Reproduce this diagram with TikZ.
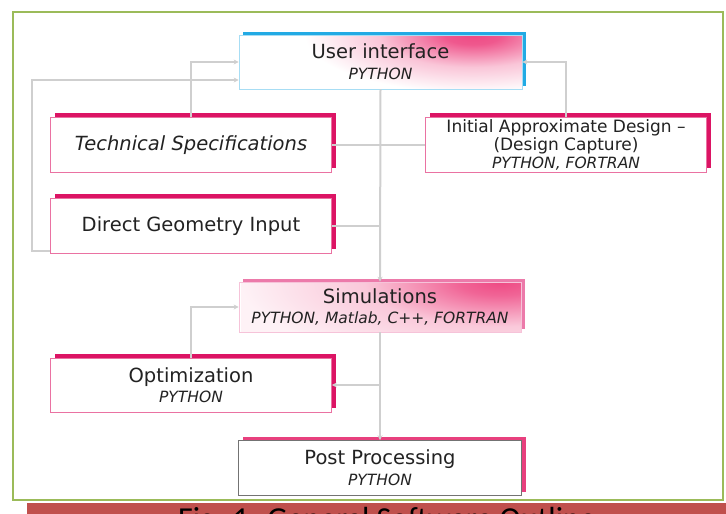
\documentclass[tikz,border=0pt]{standalone}
\usepackage{fontspec}
\setmainfont{DejaVu Sans}
\newfontfamily\capfont{Carlito}
\usepackage{xcolor}
\usetikzlibrary{arrows.meta,positioning,shadows}

\definecolor{accred}{HTML}{DC1464}
\definecolor{accblue}{HTML}{22AAE4}
\definecolor{accpink}{HTML}{EC7AAA}
\definecolor{postpink}{HTML}{E8407E}
\definecolor{wiregray}{HTML}{CFCFCF}
\definecolor{framegreen}{HTML}{9BBB59}
\definecolor{capred}{HTML}{C0504D}
\definecolor{shadepink}{HTML}{EE4A84}
\definecolor{txtgray}{HTML}{222222}

% concentric pink glows, placed at a block's upper right corner
\pgfdeclareradialshading{uiglow}{\pgfpoint{0bp}{0bp}}{color(0bp)=(shadepink); color(3bp)=(shadepink!92); color(10bp)=(shadepink!32); color(18bp)=(white); color(50bp)=(white)}
\pgfdeclareradialshading{simglow}{\pgfpoint{0bp}{0bp}}{color(0bp)=(shadepink); color(4bp)=(shadepink!85); color(13bp)=(shadepink!30); color(25bp)=(shadepink!7); color(50bp)=(shadepink!7)}

\newcommand{\lang}[1]{{\fontsize{15.5}{18}\selectfont\itshape #1}}

\tikzset{
    block/.style={rectangle, draw=accred!60, line width=0.6pt, fill=white, minimum width=281pt, minimum height=55pt, inner sep=0pt, align=center, text=txtgray, font=\fontsize{19.5}{22}\selectfont},
    redblock/.style={block, general shadow={shadow xshift=4.5pt, shadow yshift=4.5pt, fill=accred}},
    uiblock/.style={block, draw=accblue!40, general shadow={shadow xshift=4pt, shadow yshift=3pt, fill=accblue},
        path picture={\shade[shading=uiglow] ([xshift=-225pt, yshift=-80pt]path picture bounding box.north east) rectangle ([xshift=185pt, yshift=80pt]path picture bounding box.north east);}},
    simblock/.style={block, draw=accpink!45, general shadow={shadow xshift=4pt, shadow yshift=3pt, fill=accpink},
        path picture={\shade[shading=simglow] ([xshift=-280pt, yshift=-85pt]path picture bounding box.north east) rectangle ([xshift=240pt, yshift=85pt]path picture bounding box.north east);}},
    postblock/.style={block, draw=black!55, general shadow={shadow xshift=4.5pt, shadow yshift=4pt, fill=postpink}},
    wire/.style={draw=wiregray, line width=2pt},
    link/.style={wire, -{Stealth[length=5pt, width=5pt]}},
}

\begin{document}
\begin{tikzpicture}[x=1pt, y=-1pt]
    \useasboundingbox (0,0) rectangle (726,514);

    % frame and caption strip
    \draw[framegreen, line width=2.5pt] (13,12) rectangle (723,500);
    \fill[capred] (27,503) rectangle (726,514);
    \node[anchor=base west, inner sep=0pt, font=\capfont\fontsize{32}{36}\selectfont] (cap) at (178,529) {Fig. 1: General Software Outline};

    % blocks
    \node[uiblock, minimum width=283pt, minimum height=54pt] (ui) at (380.5,62) {User interface\\[-1pt]\lang{PYTHON}};
    \node[redblock, font=\fontsize{19.5}{22}\selectfont\itshape] (tech) at (191,145) {Technical Specifications};
    \node[redblock] (dgi) at (191,226) {Direct Geometry Input};
    \node[redblock, font=\fontsize{17}{19}\selectfont] (iad) at (566,145) {Initial Approximate Design --\\[-1pt](Design Capture)\\[-1pt]\lang{PYTHON, FORTRAN}};
    \node[simblock, minimum width=282pt, minimum height=50pt] (sim) at (380,307) {Simulations\\[-2pt]\lang{PYTHON, Matlab, C++, FORTRAN}};
    \node[redblock, minimum height=54pt] (opt) at (191,385) {Optimization\\[-2pt]\lang{PYTHON}};
    \node[postblock, minimum width=283pt] (post) at (380,468) {Post Processing\\[-1pt]\lang{PYTHON}};

    % connectors
    \coordinate (loopin) at ([yshift=-18pt]ui.west);
    \coordinate (loopout) at ([yshift=3pt]dgi.south west);
    \draw[link] (ui.south) -- (sim.north);
    \draw[wire] (tech.east) -- (iad.west);
    \draw[wire] (dgi.east) -- (dgi.east -| ui.south);
    \draw[link] (tech.north) |- (ui.west);
    \draw[link] (loopout) -- ++(-18,0) |- (loopin);
    \draw[link] (iad.north) |- (ui.east);
    \draw[link] (sim.south) -- (post.north);
    \draw[link] (sim.south |- opt.east) -- (opt.east);
    \draw[link] (opt.north) |- (sim.west);
\end{tikzpicture}
\end{document}
